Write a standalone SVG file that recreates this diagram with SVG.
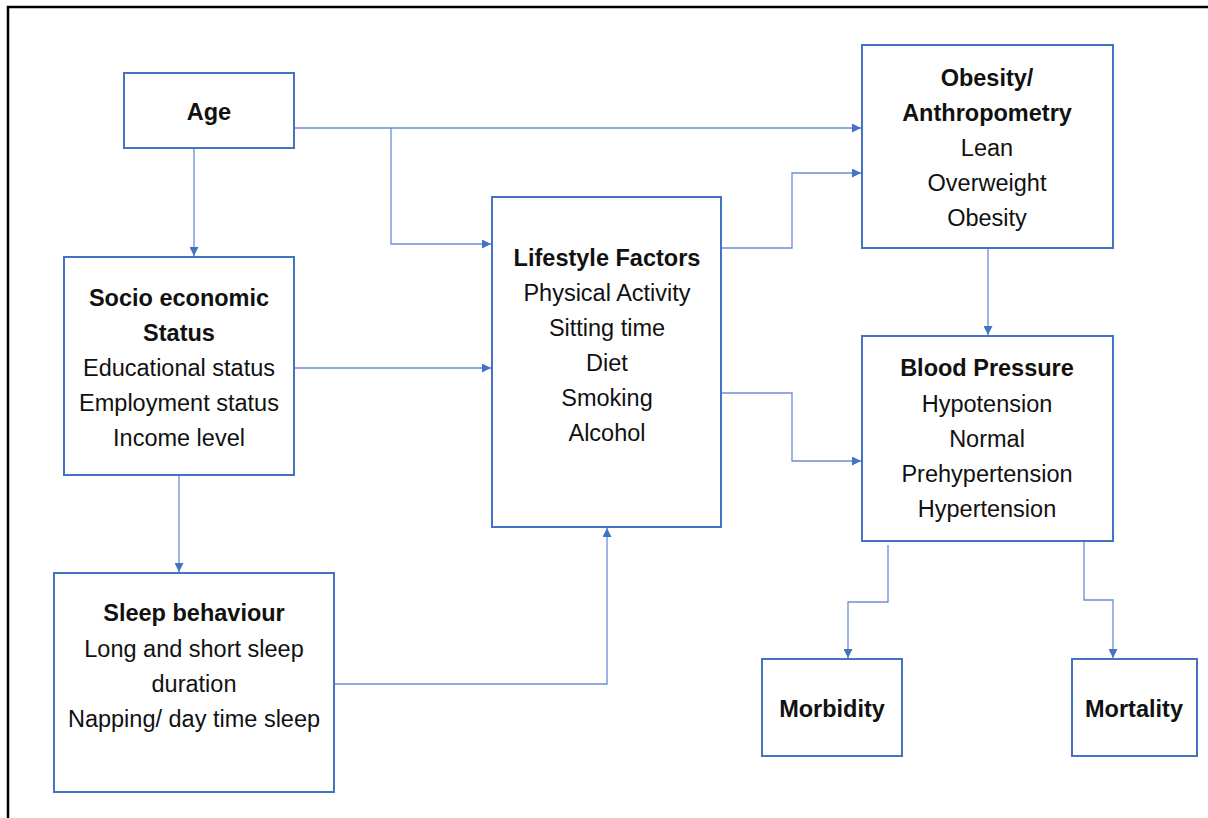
<svg xmlns="http://www.w3.org/2000/svg" width="1208" height="818" viewBox="0 0 1208 818">
<style>
.box{fill:#fff;stroke:#4472C4;stroke-width:2}
.t{font-family:"Liberation Sans",Arial,sans-serif;font-size:23.5px;fill:#111;text-anchor:middle}
.b{font-weight:bold}
.c{fill:none;stroke:#6A8ED3;stroke-width:1.3}
</style>
<defs>
<marker id="ah" viewBox="0 0 10 10" refX="10" refY="5" markerWidth="9" markerHeight="9" markerUnits="userSpaceOnUse" orient="auto">
<path d="M0,0 L10,5 L0,10 Z" fill="#4472C4"/>
</marker>
</defs>
<rect width="1208" height="818" fill="#fff"/>
<path d="M8,818 V7 H1208" fill="none" stroke="#000" stroke-width="2.5"/>
<g id="connectors">
<path class="c" d="M294,128 H861" marker-end="url(#ah)"/>
<path class="c" d="M391,128 V244 H491" marker-end="url(#ah)"/>
<path class="c" d="M194,148 V256" marker-end="url(#ah)"/>
<path class="c" d="M294,368 H491" marker-end="url(#ah)"/>
<path class="c" d="M179,475 V572" marker-end="url(#ah)"/>
<path class="c" d="M334,684 H607 V528" marker-end="url(#ah)"/>
<path class="c" d="M721,248 H792 V173 H861" marker-end="url(#ah)"/>
<path class="c" d="M721,393 H792 V461 H861" marker-end="url(#ah)"/>
<path class="c" d="M988,248 V335" marker-end="url(#ah)"/>
<path class="c" d="M888,545 V602 H848 V658" marker-end="url(#ah)"/>
<path class="c" d="M1084,541 V600 H1113 V658" marker-end="url(#ah)"/>
</g>
<g id="age">
<rect class="box" x="124" y="73" width="170" height="75"/>
<text class="t b" x="209" y="120">Age</text>
</g>
<g id="socio">
<rect class="box" x="64" y="257" width="230" height="218"/>
<text class="t b" x="179" y="306">Socio economic</text>
<text class="t b" x="179" y="341">Status</text>
<text class="t" x="179" y="376">Educational status</text>
<text class="t" x="179" y="411">Employment status</text>
<text class="t" x="179" y="446">Income level</text>
</g>
<g id="sleep">
<rect class="box" x="54" y="573" width="280" height="219"/>
<text class="t b" x="194" y="621">Sleep behaviour</text>
<text class="t" x="194" y="657">Long and short sleep</text>
<text class="t" x="194" y="692">duration</text>
<text class="t" x="194" y="727">Napping/ day time sleep</text>
</g>
<g id="lifestyle">
<rect class="box" x="492" y="197" width="229" height="330"/>
<text class="t b" x="607" y="266">Lifestyle Factors</text>
<text class="t" x="607" y="301">Physical Activity</text>
<text class="t" x="607" y="336">Sitting time</text>
<text class="t" x="607" y="371">Diet</text>
<text class="t" x="607" y="406">Smoking</text>
<text class="t" x="607" y="441">Alcohol</text>
</g>
<g id="obesity">
<rect class="box" x="862" y="45" width="251" height="203"/>
<text class="t b" x="987" y="86">Obesity/</text>
<text class="t b" x="987" y="121">Anthropometry</text>
<text class="t" x="987" y="156">Lean</text>
<text class="t" x="987" y="191">Overweight</text>
<text class="t" x="987" y="226">Obesity</text>
</g>
<g id="bp">
<rect class="box" x="862" y="336" width="251" height="205"/>
<text class="t b" x="987" y="376">Blood Pressure</text>
<text class="t" x="987" y="412">Hypotension</text>
<text class="t" x="987" y="447">Normal</text>
<text class="t" x="987" y="482">Prehypertension</text>
<text class="t" x="987" y="517">Hypertension</text>
</g>
<g id="morbidity">
<rect class="box" x="762" y="659" width="140" height="97"/>
<text class="t b" x="832" y="717">Morbidity</text>
</g>
<g id="mortality">
<rect class="box" x="1072" y="659" width="125" height="97"/>
<text class="t b" x="1134" y="717">Mortality</text>
</g>
</svg>
